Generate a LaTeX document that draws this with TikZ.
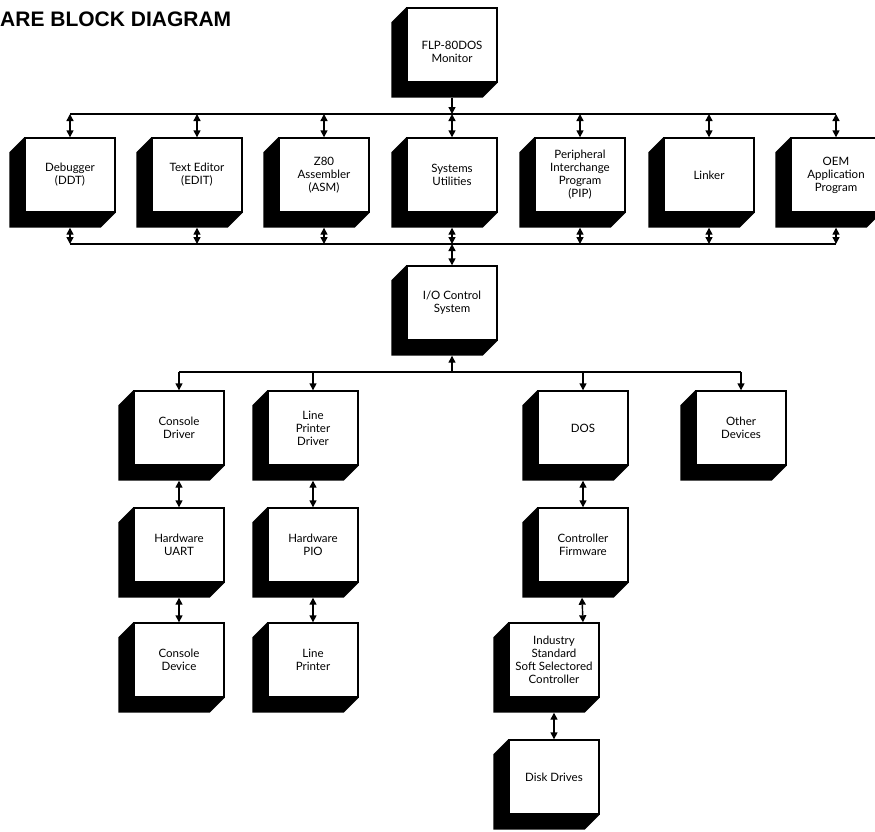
\documentclass[tikz,border=0pt]{standalone}
\usepackage{fontspec}
\newfontfamily\titlefont{Liberation Sans}
\newfontfamily\boxfont{Lato}
\usetikzlibrary{arrows.meta,calc}
\newcommand\boxshadow[1]{%
  \fill ($(#1.north west)$) -- ++(-15,15) -- ($(#1.south west)+(-15,15)$) -- ($(#1.south east)+(-15,15)$) -- (#1.south east) -- (#1.south west) -- cycle;}
\begin{document}
\begin{tikzpicture}[x=1pt,y=-1pt,
  blk/.style={draw=black, line width=1.4pt, fill=white, minimum width=90pt, minimum height=74pt, inner sep=1pt, align=center, font=\boxfont\fontsize{11.5}{13}\selectfont},
  wire/.style={line width=1.4pt},
  tip/.style={-{Triangle[length=7pt,width=7pt]}},
  tips/.style={{Triangle[length=7pt,width=7pt]}-{Triangle[length=7pt,width=7pt]}},
]
\useasboundingbox (0,0) rectangle (875,831);

\node[anchor=base west, inner sep=0, font=\titlefont\bfseries\fontsize{21}{21}\selectfont] (title) at (0,26) {ARE BLOCK DIAGRAM};

\node[blk] (mon) at (452,45) {\mbox{}\\[9pt]FLP-80DOS\\Monitor};
\node[blk] (ddt) at (70,175) {Debugger\\(DDT)};
\node[blk] (edit) at (197,175) {Text Editor\\(EDIT)};
\node[blk] (asm) at (324,175) {Z80\\Assembler\\(ASM)};
\node[blk] (util) at (452,175) {Systems\\Utilities};
\node[blk] (pip) at (580,175) {Peripheral\\Interchange\\Program\\(PIP)};
\node[blk] (lnk) at (709,175) {Linker};
\node[blk] (oem) at (836,175) {OEM\\Application\\Program};
\node[blk] (ioc) at (452,303) {I/O Control\\System};
\node[blk] (con) at (179,428) {Console\\Driver};
\node[blk] (lpd) at (313,428) {Line\\Printer\\Driver};
\node[blk] (dos) at (583,428) {DOS};
\node[blk] (oth) at (741,428) {Other\\Devices};
\node[blk] (uart) at (179,545) {Hardware\\UART};
\node[blk] (pio) at (313,545) {Hardware\\PIO};
\node[blk] (fw) at (583,545) {Controller\\Firmware};
\node[blk] (cdev) at (179,660) {Console\\Device};
\node[blk] (lp) at (313,660) {Line\\Printer};
\node[blk] (ssc) at (554,660) {Industry\\Standard\\Soft Selectored\\Controller};
\node[blk] (disk) at (554,777) {Disk Drives};

\foreach \n in {mon,ddt,edit,asm,util,pip,lnk,oem,ioc,con,lpd,dos,oth,uart,pio,fw,cdev,lp,ssc,disk}
  {\boxshadow{\n}}

\coordinate (bus1) at (0,114);
\coordinate (bus2) at (0,244);
\coordinate (bus3) at (0,372);

\draw[wire] (bus1 -| ddt) -- (bus1 -| oem);
\draw[wire] (bus2 -| ddt) -- (bus2 -| oem);
\draw[wire] (bus3 -| con) -- (bus3 -| oth);

\draw[wire,tip] ($(mon.south)+(0,15)$) -- (bus1 -| mon);
\foreach \n in {ddt,edit,asm,util,pip,lnk,oem} {
  \draw[wire,tips] (bus1 -| \n) -- (\n.north);
  \draw[wire,tips] ($(\n.south)+(0,15)$) -- (bus2 -| \n);
}
\draw[wire,tips] (bus2 -| ioc) -- (ioc.north);
\draw[wire,tip] (bus3 -| ioc) -- ($(ioc.south)+(0,15)$);
\foreach \n in {con,lpd,dos,oth}
  {\draw[wire,tip] (bus3 -| \n) -- (\n.north);}

\draw[wire,tips] ($(con.south)+(0,15)$) -- (uart.north);
\draw[wire,tips] ($(uart.south)+(0,15)$) -- (cdev.north);
\draw[wire,tips] ($(lpd.south)+(0,15)$) -- (pio.north);
\draw[wire,tips] ($(pio.south)+(0,15)$) -- (lp.north);
\draw[wire,tips] ($(dos.south)+(0,15)$) -- (fw.north);
\draw[wire,tips] ($(fw.south)+(-1,15)$) -- (ssc.north -| fw.south);
\draw[wire,tips] ($(ssc.south)+(0,15)$) -- (disk.north);
\end{tikzpicture}
\end{document}
